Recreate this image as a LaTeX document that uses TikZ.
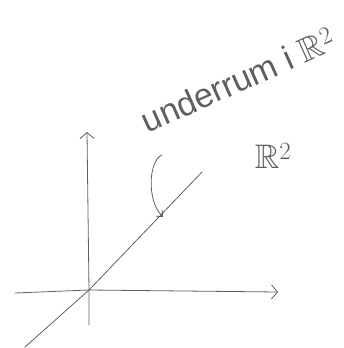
\documentclass[tikz,border=0pt]{standalone}
\usepackage{amsmath,amssymb}
\usepackage{fontspec}
\setmainfont{Liberation Sans}
\usepackage{tikz}
\usetikzlibrary{arrows.meta,positioning,calc}
\definecolor{blyerts}{RGB}{95,95,95}

\begin{document}
\begin{tikzpicture}[x=1pt,y=-1pt,
  pen/.style={draw=blyerts,line width=0.8pt,line cap=round,line join=round},
  axel/.style={pen,-{Straight Barb[length=6pt,width=14pt]}},
  pil/.style={pen,-{Straight Barb[length=5pt,width=9pt]}},
  txt/.style={text=blyerts,inner sep=0pt,font=\fontsize{34}{38}\selectfont}]
\useasboundingbox (0,0) rectangle (343,348);
% axlar
\coordinate (O) at (89,290);
\coordinate (xv) at (15,293);
\coordinate (xh) at (278,292);
\coordinate (yn) at (89,325);
\coordinate (yu) at (87,132);
\draw[axel] (xv) -- (O) -- (xh);
\draw[axel] (yn) -- (O) -- (yu);
% linjen
\coordinate (la) at (25,347);
\coordinate (lb) at (202,172);
\draw[pen] (la) -- (O) -- (lb);
% texter
\node[txt,rotate=24] (under) at (238,80) {underrum i $\mathbb{R}^2$};
\node[txt] (rum) at (273,156) {$\mathbb{R}^2$};
\coordinate (ps) at (162,155);
\coordinate (pe) at (163,217);
\draw[pil] (ps) .. controls (149,160) and (146,200) .. (pe);
\end{tikzpicture}
\end{document}
